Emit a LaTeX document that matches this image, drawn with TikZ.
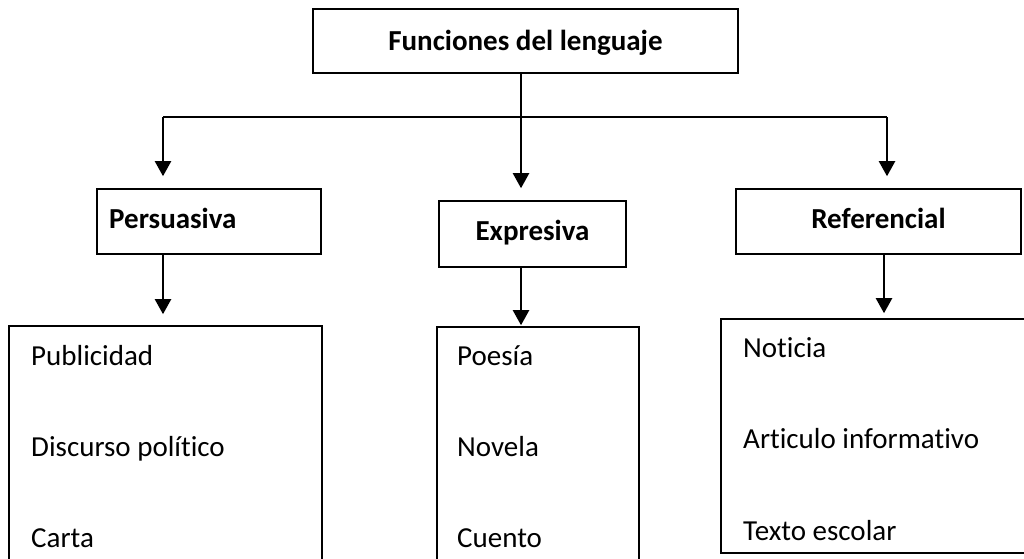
\documentclass[tikz,border=0pt]{standalone}
\usepackage{fontspec}
\setmainfont{Carlito}[RawFeature={-liga}]
\usetikzlibrary{arrows.meta}
\begin{document}
\begin{tikzpicture}[x=1pt,y=-1pt,
  box/.style={draw, line width=1.6pt, inner sep=0pt},
  lbl/.style={inner sep=0pt, anchor=base, font=\fontsize{29}{35}\selectfont\bfseries},
  item/.style={inner sep=0pt, anchor=base west, font=\fontsize{29}{35}\selectfont},
  conn/.style={line width=2.2pt},
  arr/.style={line width=2.2pt, -{Triangle[width=16pt,length=15pt]}}]
\useasboundingbox (0,0) rectangle (1024,558);
\clip (0,0) rectangle (1024,558);
% header boxes
\node[box, minimum width=425pt, minimum height=64pt] (top) at (525.5,41) {};
\node[box, minimum width=224pt, minimum height=65pt] (pers) at (209,221.5) {};
\node[box, minimum width=187pt, minimum height=66pt] (expr) at (532.5,234) {};
\node[box, minimum width=285pt, minimum height=65pt] (ref) at (878.5,221.5) {};
\node[lbl] (ttop) at (525.5,50) {Funciones del lenguaje};
\node[lbl, anchor=base west] (tpers) at (109,228) {Persuasiva};
\node[lbl] (texpr) at (532.5,240) {Expresiva};
\node[lbl] (tref) at (878.5,228) {Referencial};
% list boxes
\node[box, minimum width=313pt, minimum height=260pt] (lpers) at (165.5,456) {};
\node[box, minimum width=202pt, minimum height=260pt] (lexpr) at (538,457) {};
\node[box, minimum width=380pt, minimum height=234pt] (lref) at (911,436) {};
\node[item] (p1) at (31,365) {Publicidad};
\node[item] (p2) at (31,456) {Discurso político};
\node[item] (p3) at (31,547) {Carta};
\node[item] (e1) at (457,365) {Poesía};
\node[item] (e2) at (457,456) {Novela};
\node[item] (e3) at (457,547) {Cuento};
\node[item] (r1) at (743,357) {Noticia};
\node[item] (r2) at (743,448) {Articulo informativo};
\node[item] (r3) at (743,540) {Texto escolar};
% connectors
\coordinate (j) at (521,117);
\coordinate (bl) at (163,117);
\coordinate (br) at (887,117);
\coordinate (rj) at (884,117);
\draw[conn] (bl) -- (br);
\draw[arr, shorten >=12pt] (top.south -| j) -- (j |- expr.north);
\draw[arr, shorten >=12pt] (bl) -- (bl |- pers.north);
\draw[arr, shorten >=12pt] (br) -- (br |- ref.north);
\draw[arr, shorten >=11pt] (pers.south -| bl) -- (bl |- lpers.north);
\draw[arr, shorten >=1pt] (expr.south -| j) -- (j |- lexpr.north);
\draw[arr, shorten >=5pt] (ref.south -| rj) -- (rj |- lref.north);
\end{tikzpicture}
\end{document}
